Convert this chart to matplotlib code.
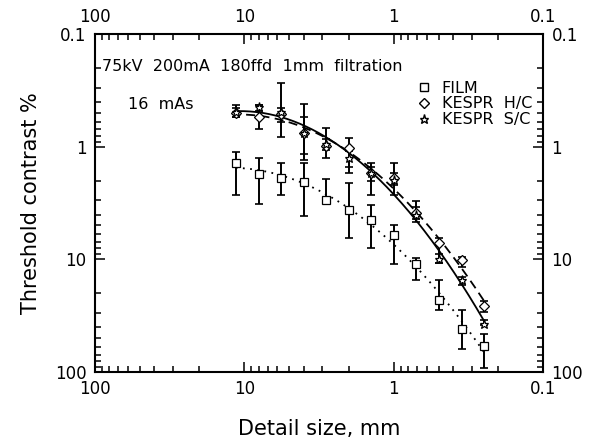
import numpy as np
import matplotlib
matplotlib.use("Agg")
import matplotlib.pyplot as plt
from matplotlib.ticker import LogLocator, FuncFormatter, NullFormatter
from matplotlib.lines import Line2D

# detail sizes (mm)
detail_size = [11.3, 8.0, 5.66, 4.0, 2.83, 2.0, 1.41, 1.0, 0.71, 0.5, 0.35, 0.25]

# FILM
film = [1.39, 1.75, 1.91, 2.07, 2.95, 3.67, 4.47, 6.08, 11.0, 22.9, 41.7, 58.3]
film_lo = [1.11, 1.25, 1.39, 1.39, 1.94, 2.11, 3.29, 4.95, 9.66, 15.2, 28.1, 46.2]
film_hi = [2.69, 3.24, 2.69, 4.09, 3.10, 6.41, 7.98, 11.0, 15.2, 28.1, 62.8, 92.0]

# KESPR H/C
hc = [0.506, 0.542, 0.513, 0.751, 0.986, 1.03, 1.70, 1.91, 3.90, 7.19, 10.1, 25.9]
hc_lo = [0.43, 0.43, 0.45, 0.421, 0.85, 0.842, 1.5, 1.39, 3.4, 6.5, 9.52, 23.2]
hc_hi = [0.55, 0.69, 0.60, 1.31, 1.07, 1.72, 2.0, 2.68, 4.4, 10.8, 11.7, 29.1]

# KESPR S/C
sc = [0.495, 0.449, 0.492, 0.751, 0.952, 1.27, 1.70, 1.97, 4.04, 9.98, 15.2, 37.4]
sc_lo = [0.454, 0.427, 0.274, 0.55, 0.687, 1.1, 1.39, 1.7, 3.02, 9.0, 14.2, 34.5]
sc_hi = [0.548, 0.48, 0.815, 1.15, 1.27, 1.5, 2.68, 2.2, 4.63, 10.8, 16.9, 38.2]


def fit_curve(x, y):
    lx = np.log10(x)
    coef = np.polyfit(lx, np.log10(y), 2)
    xs = np.linspace(lx.min(), lx.max(), 200)
    return 10 ** xs, 10 ** np.polyval(coef, xs)


def draw_series(ax, y, lo, hi, marker, ms, ls):
    x = np.array(detail_size)
    y = np.array(y)
    yerr = [y - np.array(lo), np.array(hi) - y]
    ax.errorbar(x, y, yerr=yerr, fmt="none", ecolor="black",
                elinewidth=1.4, capsize=3, capthick=1.2, zorder=2)
    ax.plot(x, y, linestyle="none", marker=marker, markersize=ms,
            markerfacecolor="white", markeredgecolor="black",
            markeredgewidth=0.9, zorder=3)
    fx, fy = fit_curve(x, y)
    ax.plot(fx, fy, color="black", linestyle=ls, linewidth=1.3, zorder=1)


fig = plt.figure(figsize=(5.95, 4.45), dpi=100)
ax = fig.add_axes([0.1597, 0.164, 0.753, 0.7596])

draw_series(ax, film, film_lo, film_hi, "s", 5.5, (0, (1, 3)))
draw_series(ax, hc, hc_lo, hc_hi, "D", 5, (0, (5, 3)))
draw_series(ax, sc, sc_lo, sc_hi, "*", 6.5, "-")

ax.set_xscale("log")
ax.set_yscale("log")
ax.set_xlim(100, 0.1)
ax.set_ylim(100, 0.1)

fmt = FuncFormatter(lambda v, p: "%g" % v)
for axis in (ax.xaxis, ax.yaxis):
    axis.set_major_locator(LogLocator(base=10))
    axis.set_minor_locator(LogLocator(base=10, subs=np.arange(2, 10)))
    axis.set_major_formatter(fmt)
    axis.set_minor_formatter(NullFormatter())

ax.tick_params(which="both", direction="in", top=True, right=True,
               labeltop=True, labelright=True, labelsize=12, width=1.1)
ax.tick_params(which="major", length=7, pad=6)
ax.tick_params(which="minor", length=4)
for sp in ax.spines.values():
    sp.set_linewidth(1.5)

ax.set_xlabel("Detail size, mm", fontsize=15, labelpad=15)
ax.set_ylabel("Threshold contrast %", fontsize=15, labelpad=10)

ax.text(0.015, 0.905, "75kV  200mA  180ffd  1mm  filtration", transform=ax.transAxes,
        fontsize=11.5, va="center", ha="left")
ax.text(0.074, 0.79, "16  mAs", transform=ax.transAxes,
        fontsize=11.5, va="center", ha="left")

handles = [
    Line2D([], [], linestyle="none", marker="s", markersize=5.5,
           markerfacecolor="white", markeredgecolor="black", label="FILM"),
    Line2D([], [], linestyle="none", marker="D", markersize=5,
           markerfacecolor="white", markeredgecolor="black", label="KESPR  H/C"),
    Line2D([], [], linestyle="none", marker="*", markersize=6.5,
           markerfacecolor="white", markeredgecolor="black", label="KESPR  S/C"),
]
ax.legend(handles=handles, loc="upper right", bbox_to_anchor=(1.0, 0.895),
          frameon=False, fontsize=11.5, handlelength=0.6, handletextpad=0.8,
          labelspacing=0.05, borderaxespad=0.3)

fig.savefig("out.png", dpi=100)
